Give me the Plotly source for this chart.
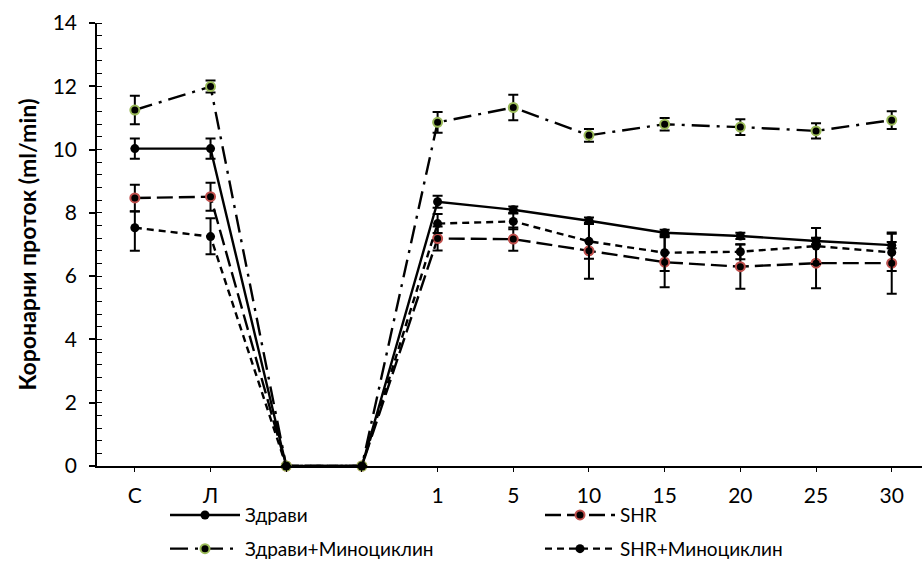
import plotly.graph_objects as go

# Time points of the experiment (two unlabeled ischemia points in the middle)
categories = ["С", "Л", "", "", "1", "5", "10", "15", "20", "25", "30"]

# Coronary flow, ml/min (mean values)
zdravi = [10.03, 10.03, 0, 0, 8.35, 8.10, 7.75, 7.37, 7.27, 7.11, 6.98]
shr = [8.47, 8.51, 0, 0, 7.19, 7.17, 6.80, 6.44, 6.30, 6.41, 6.41]
zdravi_mino = [11.25, 11.99, 0, 0, 10.86, 11.33, 10.45, 10.80, 10.71, 10.59, 10.93]
shr_mino = [7.53, 7.25, 0, 0, 7.66, 7.73, 7.10, 6.74, 6.77, 6.95, 6.75]

# Error bar half-widths
zdravi_err = [0.32, 0.32, 0, 0, 0.19, 0.10, 0.10, 0.10, 0.10, 0.10, 0.10]
shr_err = [0.42, 0.44, 0, 0, 0.38, 0.37, 0.88, 0.79, 0.70, 0.79, 0.97]
zdravi_mino_err = [0.45, 0.19, 0, 0, 0.33, 0.40, 0.20, 0.20, 0.25, 0.24, 0.28]
shr_mino_err_plus = [0.51, 0.58, 0, 0, 0.30, 0.25, 0.55, 0.58, 0.24, 0.57, 0.59]
shr_mino_err_minus = [0.73, 0.56, 0, 0, 0.30, 0.25, 0.55, 0.58, 0.24, 0.57, 0.59]

x = list(range(len(categories)))
FONT = "Lato"


def err(plus, minus=None):
    e = dict(type="data", array=plus, visible=True, color="black",
             thickness=2, width=5)
    if minus is not None:
        e["symmetric"] = False
        e["arrayminus"] = minus
    return e


series = [
    ("Здрави", zdravi, err(zdravi_err), "solid", "black", "legend"),
    ("SHR", shr, err(shr_err), "16px,6px", "#C0504D", "legend2"),
    ("Здрави+Миноциклин", zdravi_mino, err(zdravi_mino_err),
     "18px,7px,3px,7px", "#9BBB59", "legend"),
    ("SHR+Миноциклин", shr_mino, err(shr_mino_err_plus, shr_mino_err_minus),
     "7px,5px", "black", "legend2"),
]

fig = go.Figure()
for name, vals, e, dash, ring, leg in series:
    fig.add_trace(go.Scatter(
        x=x, y=vals, name=name, mode="lines+markers",
        line=dict(color="black", width=2.4, dash=dash),
        marker=dict(symbol="circle", size=9, color="black",
                    line=dict(color=ring, width=2 if ring != "black" else 0)),
        error_y=e, legend=leg, legendgroup=name, cliponaxis=False,
    ))

legend_style = dict(xanchor="left", y=-0.068, yanchor="top",
                    orientation="v", traceorder="grouped", tracegroupgap=6,
                    itemwidth=70, font=dict(size=19),
                    bgcolor="rgba(0,0,0,0)")

fig.update_layout(
    width=922, height=563,
    margin=dict(l=97, r=0, t=23, b=97, autoexpand=False),
    paper_bgcolor="white", plot_bgcolor="white",
    font=dict(family=FONT, size=21, color="black"),
    xaxis=dict(
        range=[-0.5, 10.4], tickmode="array", tickvals=x, ticktext=categories,
        showline=True, linecolor="black", linewidth=1.5,
        ticks="outside", ticklen=4, tickcolor="black", tickwidth=1,
        showgrid=False, zeroline=False, tickfont=dict(size=21),
        ticklabelstandoff=6,
    ),
    yaxis=dict(
        range=[0, 14], dtick=2, showline=True, linecolor="black", linewidth=1.5,
        ticks="outside", ticklen=6, tickcolor="black", tickwidth=1.5,
        minor=dict(dtick=0.4, ticks="inside", ticklen=5, tickcolor="black", tickwidth=1),
        showgrid=False, zeroline=False, tickfont=dict(size=21),
        ticklabelstandoff=8,
        title=dict(text="<b>Коронарни проток (ml/min)</b>", font=dict(size=23), standoff=10),
    ),
    legend=dict(x=(165 - 97) / 825, **legend_style),
    legend2=dict(x=(540 - 97) / 825, **legend_style),
)

fig.write_html("out.html")
